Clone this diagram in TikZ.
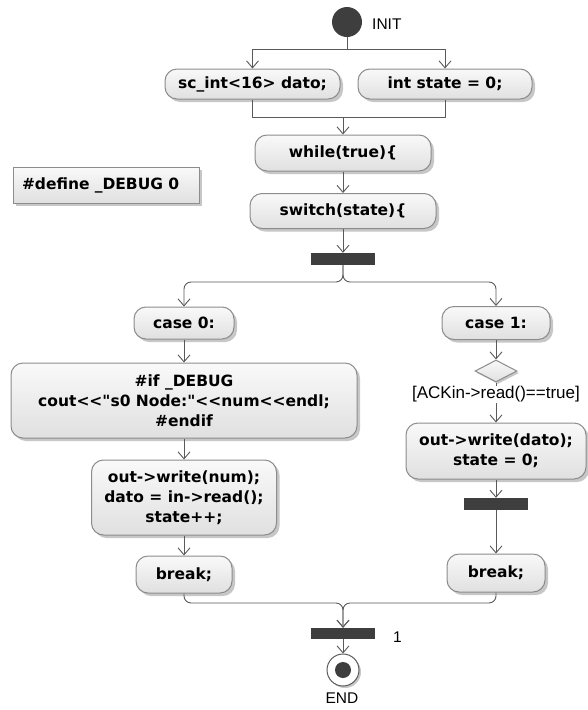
\documentclass[tikz,border=0pt]{standalone}
\usepackage{fontspec}
\usetikzlibrary{arrows.meta,shapes.geometric,shadows}
\newfontfamily\actfont{DejaVu Sans}
\newfontfamily\lblfont{Liberation Sans}
\definecolor{linegray}{HTML}{5A5A5A}
\definecolor{boxline}{HTML}{8C8C8C}
\definecolor{boxtop}{HTML}{F9F9F9}
\definecolor{boxbot}{HTML}{E0E0E0}
\definecolor{bardark}{HTML}{3E3E3E}
\definecolor{shadegray}{HTML}{B0B0B0}

\begin{document}
\begin{tikzpicture}[x=1pt,y=-1pt,
  acttext/.style={font=\actfont\bfseries\fontsize{15.5pt}{20pt}\selectfont},
  act/.style={acttext, draw=boxline, line width=1pt, rounded corners=12pt,
    top color=boxtop, bottom color=boxbot,
    drop shadow={shadow xshift=3pt, shadow yshift=-3pt, fill=shadegray, opacity=0.7},
    align=center, inner sep=0pt},
  notebox/.style={acttext, draw=boxline, line width=1pt,
    top color=boxtop, bottom color=boxbot,
    drop shadow={shadow xshift=3pt, shadow yshift=-3pt, fill=shadegray, opacity=0.7},
    align=left, inner xsep=9pt, inner ysep=0pt},
  bar/.style={fill=bardark, draw=none, inner sep=0pt, minimum width=64pt, minimum height=12pt},
  lbl/.style={font=\lblfont\fontsize{15.5pt}{15.5pt}\selectfont, inner sep=0pt},
  plain/.style={draw=linegray, line width=0.9pt},
  flow/.style={plain, -{Straight Barb[length=7pt,width=12pt,line width=0.9pt]}},
  dec/.style={diamond, draw=boxline, line width=1pt, top color=boxtop, bottom color=boxbot,
    drop shadow={shadow xshift=2pt, shadow yshift=-2pt, fill=shadegray, opacity=0.7},
    inner sep=0pt, minimum width=42pt, minimum height=22pt}
]
\useasboundingbox[fill=white] (0,0) rectangle (587,710);

% start node
\node[circle, fill=bardark, inner sep=0pt, minimum size=30pt] (init) at (347,22) {};
\node[lbl, anchor=west] (initlbl) at (372,24) {INIT};

% declarations
\node[act, minimum width=175pt, minimum height=30pt] (dato) at (252.5,84) {sc\_int<16> dato;};
\node[act, minimum width=174pt, minimum height=30pt] (state) at (445,84) {int state = 0;};

\node[act, minimum width=176pt, minimum height=36pt] (while) at (343,153) {while(true)\{};
\node[act, minimum width=186pt, minimum height=35pt] (switch) at (343,211) {switch(state)\{};
\node[bar] (bar1) at (343,259) {};

\node[notebox, text width=168pt, minimum height=36pt] (def) at (106,185) {\#define \_DEBUG 0};

% case 0 branch
\node[act, minimum width=100pt, minimum height=32pt] (case0) at (184,323) {case 0:};
\node[act, minimum width=346pt, minimum height=75pt] (ifbox) at (184,400.5)
  {\#if \_DEBUG\\cout<{}<"s0 Node:"<{}<num<{}<endl;\\\#endif};
\node[act, minimum width=185pt, minimum height=75pt] (outnum) at (184,497.5)
  {out->write(num);\\dato = in->read();\\state++;};
\node[act, minimum width=96pt, minimum height=37pt] (break0) at (184,574.5) {break;};

% case 1 branch
\node[act, minimum width=108pt, minimum height=33pt] (case1) at (496,323) {case 1:};
\node[dec] (guard) at (496,371) {};
\node[act, minimum width=180pt, minimum height=56pt] (outdato) at (496,451)
  {out->write(dato);\\state = 0;};
\node[bar] (bar2) at (496,504) {};
\node[act, minimum width=98pt, minimum height=38pt] (break1) at (496,573) {break;};

% end
\node[bar, minimum height=11pt] (bar3) at (343,633.5) {};
\node[lbl, anchor=west] (mult) at (393,637) {1};
\node[circle, draw=linegray, line width=1pt, fill=white, inner sep=0pt, minimum size=32pt,
  drop shadow={shadow xshift=2pt, shadow yshift=-2pt, fill=shadegray, opacity=0.7}] (final) at (343,670) {};
\fill[bardark] (final.center) circle[radius=8pt];
\node[lbl] (endlbl) at (342,698) {END};

% junction points
\coordinate (f1) at (347,49);
\coordinate (j1) at (343,117);
\coordinate (f2) at (343,282);
\coordinate (j2) at (343,603);

% connectors
\draw[plain] (init) -- (f1);
\draw[flow] (f1) -| (dato.north);
\draw[flow] (f1) -| (state.north);
\draw[plain] (dato.south) |- (j1);
\draw[plain] (state.south) |- (j1);
\draw[flow] (j1) -- (while.north);
\draw[flow] (while) -- (switch);
\draw[flow] (switch) -- (bar1);

\draw[flow, rounded corners=7pt] (bar1.south) -- (f2) -| (case0.north);
\draw[flow, rounded corners=7pt] (bar1.south) -- (f2) -| (case1.north);

\draw[flow] (case0) -- (ifbox);
\draw[flow] (ifbox) -- (outnum);
\draw[flow] (outnum) -- (break0);

\draw[flow] (case1) -- (guard);
\draw[flow] (guard) -- node[pos=0.3, fill=white, inner sep=1pt,
  font=\lblfont\fontsize{17pt}{17pt}\selectfont] (cond) {[ACKin->read()==true]} (outdato);
\draw[flow] (outdato) -- (bar2);
\draw[flow] (bar2) -- (break1);

\draw[flow, rounded corners=7pt] (break0.south) |- (j2) -- (bar3.north);
\draw[flow, rounded corners=7pt] (break1.south) |- (j2) -- (bar3.north);
\draw[flow] (bar3) -- (final);
\end{tikzpicture}
\end{document}
